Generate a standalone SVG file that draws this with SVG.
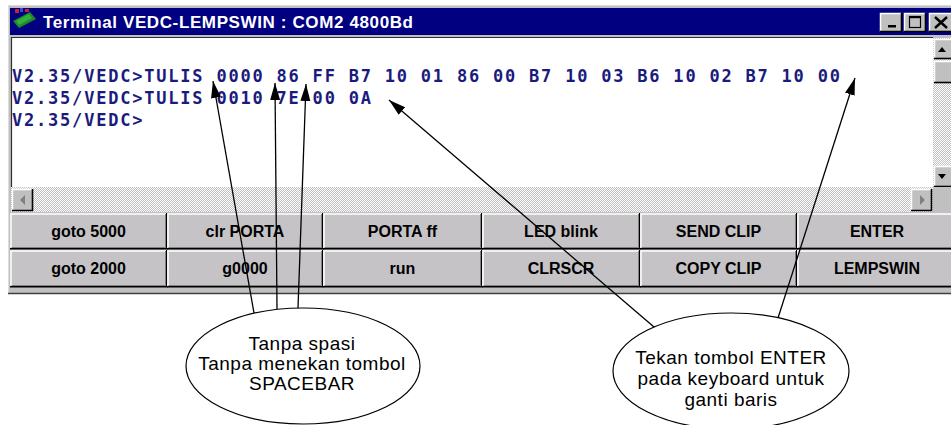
<svg xmlns="http://www.w3.org/2000/svg" width="951" height="425" viewBox="0 0 951 425">
<style>
.btn rect{fill:#c6c3c6}
.hl{fill:none;stroke:#ffffff;stroke-width:1.5}
.sh{fill:none;stroke:#000000;stroke-width:1.6}
.sh2{fill:none;stroke:#808080;stroke-width:1}
.btn text{font-family:"Liberation Sans",Arial,sans-serif;font-weight:bold;font-size:16px;fill:#000;text-anchor:middle}
.term{font-family:"DejaVu Sans Mono","Liberation Mono",monospace;font-weight:bold;font-size:17px;fill:#1b1b7d;letter-spacing:1.79px}
.note ellipse{fill:#ffffff;stroke:#000;stroke-width:1.2}
.note text{font-family:"Liberation Sans",Arial,sans-serif;font-size:19px;fill:#000;text-anchor:middle;letter-spacing:0.5px}
.conn line{stroke:#000;stroke-width:1.3;marker-end:url(#ah)}
.sb{fill:#c0c0c0}
</style>
<defs>
<pattern id="dither" width="2" height="2" patternUnits="userSpaceOnUse">
<rect width="2" height="2" fill="#c0c0c0"/>
<rect width="1" height="1" fill="#ffffff"/>
<rect x="1" y="1" width="1" height="1" fill="#ffffff"/>
</pattern>
<marker id="ah" markerUnits="userSpaceOnUse" markerWidth="18" markerHeight="11" refX="17" refY="5" orient="auto">
<path d="M0,0 L17,5 L0,10 z" fill="#000"/>
</marker>
</defs>
<rect width="951" height="425" fill="#ffffff"/>

<g id="window">
<rect x="8" y="5" width="945" height="289" fill="#c0c0c0"/>
<path d="M8.5,294 V5.5 H951" fill="none" stroke="#dcdcdc" stroke-width="1"/>
<path d="M8,293.5 H951" stroke="#404040" stroke-width="1.5"/>
<rect x="10" y="8" width="941" height="27" fill="#000080"/>
<g id="icon">
<polygon points="13,21 30,12 36,19 19,28" fill="#1f8a2a"/>
<polygon points="16,21 29,14 32,18 19,25" fill="#2fb33a"/>
<rect x="15" y="9" width="4" height="4" fill="#d02030"/>
<rect x="20" y="8" width="3" height="4" fill="#3050d0"/>
<rect x="25" y="9" width="4" height="3" fill="#d02030"/>
</g>
<text x="43" y="28" textLength="370" lengthAdjust="spacing" font-family="Liberation Sans, Arial, sans-serif" font-weight="bold" font-size="17" fill="#ffffff">Terminal VEDC-LEMPSWIN : COM2 4800Bd</text>
<g id="title-buttons">
<rect x="880" y="13" width="22" height="19" fill="#c0c0c0"/>
<path class="hl" d="M880.5,31.5 V13.5 H901.5"/><path class="sh" d="M880,31.5 H901.5 V13"/>
<rect x="888" y="25" width="8" height="2.5" fill="#000"/>
<rect x="904" y="13" width="22" height="19" fill="#c0c0c0"/>
<path class="hl" d="M904.5,31.5 V13.5 H925.5"/><path class="sh" d="M904,31.5 H925.5 V13"/>
<rect x="909.5" y="16.5" width="11" height="11" fill="none" stroke="#000" stroke-width="1.2"/>
<rect x="909" y="16" width="12" height="2.2" fill="#000"/>
<rect x="929" y="13" width="24" height="19" fill="#c0c0c0"/>
<path class="hl" d="M929.5,31.5 V13.5 H951"/><path d="M929,31.5 H951" class="sh"/>
<path d="M935,17 L947,28 M947,17 L935,28" stroke="#000" stroke-width="2.4"/>
</g>
</g>

<g id="terminal">
<rect x="11" y="37" width="922" height="150" fill="#ffffff"/>
<path d="M11.5,187 V37.5 H933" fill="none" stroke="#303030" stroke-width="1.2"/>
<text class="term" x="12" y="82">V2.35/VEDC&gt;TULIS 0000 86 FF B7 10 01 86 00 B7 10 03 B6 10 02 B7 10 00</text>
<text class="term" x="12" y="104">V2.35/VEDC&gt;TULIS 0010 7E 00 0A</text>
<text class="term" x="12" y="126">V2.35/VEDC&gt;</text>
</g>

<g id="vscroll">
<rect x="933" y="38" width="18" height="149" fill="url(#dither)"/>
<rect class="sb" x="934" y="39" width="18" height="20"/>
<path class="hl" d="M934.5,58.5 V39.5 H951"/><path class="sh" d="M934,58.5 H951"/>
<polygon points="938,52 946,52 942,47" fill="#000"/>
<rect class="sb" x="934" y="61" width="18" height="22"/>
<path class="hl" d="M934.5,82.5 V61.5 H951"/><path class="sh" d="M934,82.5 H951"/>
<rect class="sb" x="934" y="166" width="18" height="21"/>
<path class="hl" d="M934.5,186.5 V166.5 H951"/><path class="sh" d="M934,186.5 H951"/>
<polygon points="938,174 946,174 942,179" fill="#000"/>
</g>

<g id="hscroll">
<rect x="11" y="187" width="922" height="25" fill="url(#dither)"/>
<rect class="sb" x="12" y="189" width="21" height="22"/>
<path class="hl" d="M12.5,210.5 V189.5 H32.5"/><path class="sh" d="M12,210.5 H32.5 V189"/>
<polygon points="20,200 25,195 25,205" fill="#808080"/>
<rect class="sb" x="911" y="189" width="21" height="22"/>
<path class="hl" d="M911.5,210.5 V189.5 H931.5"/><path class="sh" d="M911,210.5 H931.5 V189"/>
<polygon points="925,200 920,195 920,205" fill="#808080"/>
<rect class="sb" x="933" y="187" width="18" height="25"/>
</g>

<g id="buttons">
<g id="btn-goto5000" class="btn"><rect x="10" y="213" width="157" height="36"/><path class="hl" d="M11,248 V214 H166"/><path class="sh2" d="M11.5,247.5 H165.5 V214"/><path class="sh" d="M10,248.8 H166.8 V213"/><text x="88.5" y="237">goto 5000</text></g>
<g id="btn-clrporta" class="btn"><rect x="167" y="213" width="156" height="36"/><path class="hl" d="M168,248 V214 H322"/><path class="sh2" d="M168.5,247.5 H321.5 V214"/><path class="sh" d="M167,248.8 H322.8 V213"/><text x="245" y="237">clr PORTA</text></g>
<g id="btn-portaff" class="btn"><rect x="323" y="213" width="159" height="36"/><path class="hl" d="M324,248 V214 H481"/><path class="sh2" d="M324.5,247.5 H480.5 V214"/><path class="sh" d="M323,248.8 H481.8 V213"/><text x="402.5" y="237">PORTA ff</text></g>
<g id="btn-ledblink" class="btn"><rect x="482" y="213" width="158" height="36"/><path class="hl" d="M483,248 V214 H639"/><path class="sh2" d="M483.5,247.5 H638.5 V214"/><path class="sh" d="M482,248.8 H639.8 V213"/><text x="561" y="237">LED blink</text></g>
<g id="btn-sendclip" class="btn"><rect x="640" y="213" width="157" height="36"/><path class="hl" d="M641,248 V214 H796"/><path class="sh2" d="M641.5,247.5 H795.5 V214"/><path class="sh" d="M640,248.8 H796.8 V213"/><text x="718.5" y="237">SEND CLIP</text></g>
<g id="btn-enter" class="btn"><rect x="797" y="213" width="158" height="36"/><path class="hl" d="M798,248 V214 H951"/><path class="sh2" d="M798.5,247.5 H951"/><path class="sh" d="M797,248.8 H951"/><text x="877" y="237">ENTER</text></g>

<g id="btn-goto2000" class="btn"><rect x="10" y="250" width="157" height="37"/><path class="hl" d="M11,286 V251 H166"/><path class="sh2" d="M11.5,285.5 H165.5 V251"/><path class="sh" d="M10,286.8 H166.8 V250"/><text x="88.5" y="274">goto 2000</text></g>
<g id="btn-g0000" class="btn"><rect x="167" y="250" width="156" height="37"/><path class="hl" d="M168,286 V251 H322"/><path class="sh2" d="M168.5,285.5 H321.5 V251"/><path class="sh" d="M167,286.8 H322.8 V250"/><text x="245" y="274">g0000</text></g>
<g id="btn-run" class="btn"><rect x="323" y="250" width="159" height="37"/><path class="hl" d="M324,286 V251 H481"/><path class="sh2" d="M324.5,285.5 H480.5 V251"/><path class="sh" d="M323,286.8 H481.8 V250"/><text x="402.5" y="274">run</text></g>
<g id="btn-clrscr" class="btn"><rect x="482" y="250" width="158" height="37"/><path class="hl" d="M483,286 V251 H639"/><path class="sh2" d="M483.5,285.5 H638.5 V251"/><path class="sh" d="M482,286.8 H639.8 V250"/><text x="561" y="274">CLRSCR</text></g>
<g id="btn-copyclip" class="btn"><rect x="640" y="250" width="157" height="37"/><path class="hl" d="M641,286 V251 H796"/><path class="sh2" d="M641.5,285.5 H795.5 V251"/><path class="sh" d="M640,286.8 H796.8 V250"/><text x="718.5" y="274">COPY CLIP</text></g>
<g id="btn-lempswin" class="btn"><rect x="797" y="250" width="158" height="37"/><path class="hl" d="M798,286 V251 H951"/><path class="sh2" d="M798.5,285.5 H951"/><path class="sh" d="M797,286.8 H951"/><text x="877" y="274">LEMPSWIN</text></g>
</g>

<g id="note-spasi" class="note">
<ellipse cx="303" cy="366" rx="117" ry="58"/>
<text x="302" y="350">Tanpa spasi</text>
<text x="302" y="370">Tanpa menekan tombol</text>
<text x="302" y="390">SPACEBAR</text>
</g>
<g id="note-enter" class="note">
<ellipse cx="731" cy="371" rx="118" ry="58"/>
<text x="731" y="364">Tekan tombol ENTER</text>
<text x="731" y="385">pada keyboard untuk</text>
<text x="731" y="406">ganti baris</text>
</g>

<g id="connectors" class="conn">
<line x1="254" y1="313" x2="213" y2="81"/>
<line x1="277" y1="309" x2="275" y2="83"/>
<line x1="298" y1="308" x2="306" y2="84"/>
<line x1="654" y1="327" x2="389" y2="100"/>
<line x1="778" y1="318" x2="855" y2="78"/>
</g>
</svg>
